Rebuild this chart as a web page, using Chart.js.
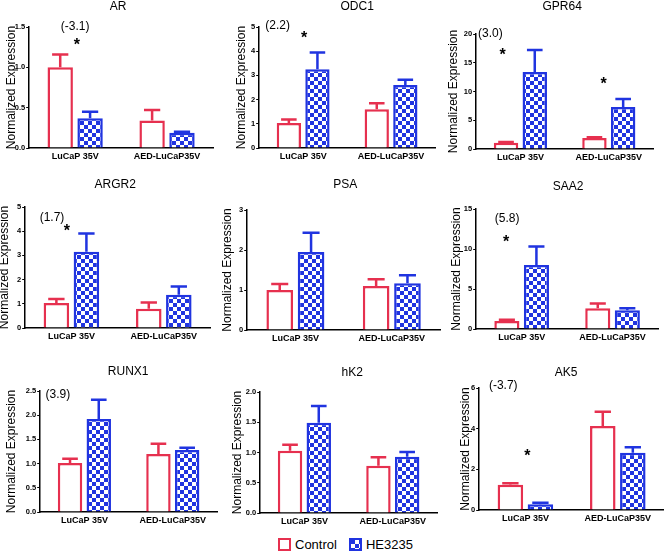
<!DOCTYPE html>
<html>
<head>
<meta charset="utf-8">
<script src="https://cdn.jsdelivr.net/npm/chart.js@4.4.0/dist/chart.umd.min.js"></script>
<style>
  html, body { margin: 0; padding: 0; background: #fff; }
  #page { position: relative; width: 664px; height: 551px; overflow: hidden; font-family: "Liberation Sans", Arial, sans-serif; }
  #page canvas { position: absolute; }
  #legend { position: absolute; left: 278px; top: 537px; height: 14px; display: flex; align-items: center; font-size: 13px; color: #000; white-space: nowrap; }
  #legend .sw { width: 9px; height: 9px; border: 2px solid; margin-right: 4px; }
  #legend .txt { margin-right: 12px; }
</style>
</head>
<body>
<div id="page"><div id="legend"></div></div>
<script>
// ---- data ----
const genes = ["AR", "ODC1", "GPR64", "ARGR2", "PSA", "SAA2", "RUNX1", "hK2", "AK5"];
const groups = ["LuCaP 35V", "AED-LuCaP35V"];
const seriesNames = ["Control", "HE3235"];

// mean per group, then the top of the error bar (mean + SEM)
const controlMean  = [[1.0, 0.34], [1.03, 1.6], [1.1, 1.9], [1.03, 0.8], [1.0, 1.1], [1.0, 2.6], [1.01, 1.2], [1.03, 0.78], [1.24, 4.13]];
const controlUpper = [[1.16, 0.47], [1.18, 1.85], [1.2, 2.05], [1.2, 1.05], [1.15, 1.27], [1.15, 3.2], [1.1, 1.41], [1.13, 0.92], [1.32, 4.83]];
const heMean       = [[0.37, 0.19], [3.25, 2.6], [13.4, 7.3], [3.15, 1.37], [1.95, 1.17], [8.0, 2.35], [1.92, 1.28], [1.49, 0.93], [0.28, 2.81]];
const heUpper      = [[0.45, 0.2], [3.95, 2.82], [17.2, 8.7], [3.9, 1.72], [2.43, 1.37], [10.3, 2.6], [2.32, 1.33], [1.77, 1.01], [0.36, 3.09]];

const yMax  = [1.5, 5, 20, 5, 3, 15, 2.5, 2.0, 6];
const yStep = [0.5, 1, 5, 1, 1, 5, 0.5, 0.5, 2];

// fold change label and significance stars, as [category position, value]
const foldLabels = ["(-3.1)", "(2.2)", "(3.0)", "(1.7)", "", "(5.8)", "(3.9)", "", "(-3.7)"];
const foldAt  = [[0, 1.5], [-0.29, 5.04], [-0.34, 20], [-0.21, 4.55], null, [-0.16, 13.8], [-0.3, 2.43], null, [-0.24, 6.1]];
const starsAt = [[[0.02, 1.32]], [[0.01, 4.71]], [[-0.2, 16.9], [0.94, 12.0]], [[-0.05, 4.17]], [], [[-0.17, 11.3]], [], [], [[0.02, 2.82]]];

// ---- where each panel sits on the page (axis x, top tick, zero line, axis end, title, y title) ----
const panels = [
  { ax: 29,  top: 27,  zero: 148, right: 213, tx: 118, ty: 7,   yt: 11 },
  { ax: 259, top: 27,  zero: 148, right: 435, tx: 357, ty: 7,   yt: 241 },
  { ax: 476, top: 34,  zero: 149, right: 653, tx: 562, ty: 7,   yt: 453 },
  { ax: 25,  top: 207, zero: 328, right: 210, tx: 115, ty: 185, yt: 4 },
  { ax: 247, top: 210, zero: 330, right: 440, tx: 345, ty: 185, yt: 227 },
  { ax: 476, top: 209, zero: 329, right: 658, tx: 568, ty: 187, yt: 456 },
  { ax: 40,  top: 391, zero: 512, right: 217, tx: 128, ty: 372, yt: 11 },
  { ax: 260, top: 392, zero: 513, right: 437, tx: 352, ty: 373, yt: 237 },
  { ax: 479, top: 388, zero: 510, right: 664, tx: 566, ty: 373, yt: 465 },
];

const RED = "#e6304f";
const BLUE = "#2034e0";
const FONT = "'Liberation Sans', Arial, sans-serif";

// checkered fill for HE3235
const pc = document.createElement("canvas");
pc.width = 8; pc.height = 8;
const pctx = pc.getContext("2d");
pctx.fillStyle = "#fff"; pctx.fillRect(0, 0, 8, 8);
pctx.fillStyle = BLUE; pctx.fillRect(0, 0, 4, 4); pctx.fillRect(4, 4, 4, 4);
const checker = pctx.createPattern(pc, "repeat");

// error bars (upper whisker only)
const errorBars = {
  id: "errorBars",
  afterDatasetsDraw(chart) {
    const ctx = chart.ctx, y = chart.scales.y;
    chart.data.datasets.forEach((ds, d) => {
      chart.getDatasetMeta(d).data.forEach((bar, j) => {
        const yTop = y.getPixelForValue(ds.upper[j]);
        const half = bar.width * 0.32;
        ctx.save();
        ctx.strokeStyle = ds.borderColor;
        ctx.lineWidth = 2.5;
        ctx.beginPath();
        ctx.moveTo(bar.x, bar.y);
        ctx.lineTo(bar.x, yTop);
        ctx.moveTo(bar.x - half, yTop);
        ctx.lineTo(bar.x + half, yTop);
        ctx.stroke();
        ctx.restore();
      });
    });
  }
};

// gene title, fold change and stars
const panelText = {
  id: "panelText",
  afterDraw(chart, args, opts) {
    const ctx = chart.ctx, x = chart.scales.x, y = chart.scales.y;
    const i = opts.index;
    ctx.save();
    ctx.fillStyle = "#000";
    ctx.textAlign = "center";
    ctx.textBaseline = "middle";
    ctx.font = "12px " + FONT;
    ctx.fillText(genes[i], opts.titleX, opts.titleY);
    if (foldAt[i]) {
      ctx.fillText(foldLabels[i], x.getPixelForValue(foldAt[i][0]), y.getPixelForValue(foldAt[i][1]));
    }
    ctx.font = "bold 16px " + FONT;
    ctx.textBaseline = "alphabetic";
    starsAt[i].forEach(s => {
      ctx.fillText("*", x.getPixelForValue(s[0]), y.getPixelForValue(s[1]) + 8.5);
    });
    ctx.restore();
  }
};

const page = document.getElementById("page");
const XH = 20;

genes.forEach((gene, i) => {
  const p = panels[i];
  const L = p.yt - 7.2;
  const T = p.ty - 10;
  const W = Math.round(p.right - L + 2);
  const H = Math.round(p.zero - T + XH);
  const cv = document.createElement("canvas");
  cv.width = W; cv.height = H;
  cv.style.left = L + "px"; cv.style.top = T + "px";
  cv.style.width = W + "px"; cv.style.height = H + "px";
  page.appendChild(cv);

  const dec = yStep[i] < 1 ? 1 : 0;

  new Chart(cv.getContext("2d"), {
    type: "bar",
    data: {
      labels: groups,
      datasets: [
        { label: seriesNames[0], data: controlMean[i], upper: controlUpper[i], backgroundColor: "#fff", borderColor: RED, borderWidth: 2.5 },
        { label: seriesNames[1], data: heMean[i], upper: heUpper[i], backgroundColor: checker, borderColor: BLUE, borderWidth: 2.5 },
      ],
    },
    options: {
      responsive: false,
      animation: false,
      devicePixelRatio: 1,
      categoryPercentage: 0.65,
      barPercentage: 0.85,
      layout: { padding: { top: p.top - T, right: 2, left: 0, bottom: 0 } },
      plugins: {
        legend: { display: false },
        tooltip: { enabled: false },
        panelText: { index: i, titleX: p.tx - L, titleY: p.ty - T },
      },
      scales: {
        x: {
          grid: { display: false, drawTicks: false },
          border: { display: true, color: "#000", width: 1.5 },
          ticks: { color: "#000", padding: 3, font: { family: FONT, size: 9, weight: "bold" } },
          afterFit: (s) => { s.height = XH; },
        },
        y: {
          min: 0,
          max: yMax[i],
          grid: { drawOnChartArea: false, drawTicks: true, tickLength: 3, color: "#000", lineWidth: 1 },
          border: { display: true, color: "#000", width: 1.5 },
          ticks: {
            stepSize: yStep[i],
            color: "#000",
            padding: 1,
            font: { family: FONT, size: 7.5, weight: "bold" },
            callback: (v) => Number(v).toFixed(dec),
          },
          title: { display: true, text: "Normalized Expression", color: "#000", padding: 0, font: { family: FONT, size: 12 } },
          afterFit: (s) => { s.width = p.ax - L; },
        },
      },
    },
    plugins: [errorBars, panelText],
  });
});

// legend
const legend = document.getElementById("legend");
seriesNames.forEach((name, k) => {
  const sw = document.createElement("span");
  sw.className = "sw";
  sw.style.borderColor = k === 0 ? RED : BLUE;
  sw.style.background = k === 0 ? "#fff" : "url(" + pc.toDataURL() + ")";
  const t = document.createElement("span");
  t.className = "txt";
  t.textContent = name;
  legend.appendChild(sw);
  legend.appendChild(t);
});
</script>
</body>
</html>
